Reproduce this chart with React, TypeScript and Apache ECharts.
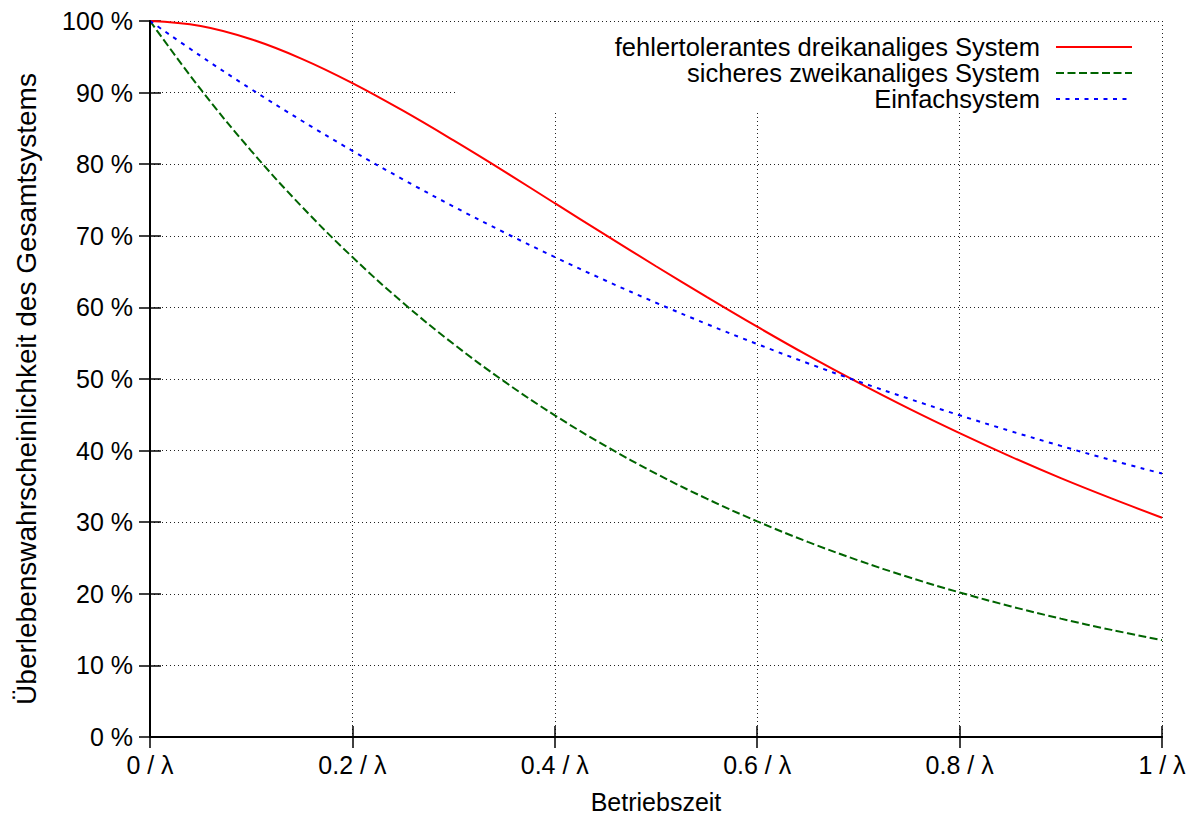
import React, { useEffect, useRef } from "react";
import * as echarts from "echarts";

// Operating time in units of 1/λ
const times = [
  0, 0.05, 0.1, 0.15, 0.2, 0.25, 0.3, 0.35, 0.4, 0.45, 0.5,
  0.55, 0.6, 0.65, 0.7, 0.75, 0.8, 0.85, 0.9, 0.95, 1,
];

// Survival probability of the whole system, in percent
const faultTolerantTriple = [
  100, 99.3, 97.45, 94.72, 91.33, 87.47, 83.32, 79.0, 74.55, 70.14, 65.75,
  61.47, 57.3, 53.29, 49.48, 45.85, 42.43, 39.19, 36.15, 33.32, 30.63,
];
const safeDual = [
  100, 90.48, 81.87, 74.08, 67.03, 60.65, 54.88, 49.66, 44.93, 40.66, 36.79,
  33.29, 30.12, 27.25, 24.66, 22.31, 20.19, 18.27, 16.53, 14.96, 13.53,
];
const simplex = [
  100, 95.12, 90.48, 86.07, 81.87, 77.88, 74.08, 70.47, 67.03, 63.76, 60.65,
  57.69, 54.88, 52.2, 49.66, 47.24, 44.93, 42.74, 40.66, 38.67, 36.79,
];

const seriesNames = [
  "fehlertolerantes dreikanaliges System",
  "sicheres zweikanaliges System",
  "Einfachsystem",
];

const xTitle = "Betriebszeit";
const yTitle = "Überlebenswahrscheinlichkeit des Gesamtsystems";

const FONT = "'Liberation Sans', Arial, Helvetica, sans-serif";

const pairs = (ys: number[]) => times.map((t, i) => [t, ys[i]]);

export default function App() {
  const ref = useRef<HTMLDivElement>(null);

  useEffect(() => {
    if (!ref.current) return;
    const chart = echarts.init(ref.current, undefined, { renderer: "svg" });

    const gridDots = {
      show: true,
      lineStyle: { color: "#222", width: 1, type: [1, 3] as any },
    };
    const frameLine = { show: true, lineStyle: { color: "#000", width: 2 } };
    const inTicks = {
      show: true,
      inside: true,
      length: 11,
      lineStyle: { color: "#000", width: 1.5 },
    };

    const line = (name: string, ys: number[], color: string, type: any) => ({
      name,
      type: "line",
      data: pairs(ys),
      showSymbol: false,
      symbol: "none",
      smooth: 0.4,
      lineStyle: { color, width: 2, type },
      itemStyle: { color },
      z: 3,
    });

    chart.setOption({
      animation: false,
      backgroundColor: "#fff",
      textStyle: { fontFamily: FONT },
      grid: {
        left: 150,
        right: 35,
        top: 21,
        bottom: 77,
        containLabel: false,
        outerBoundsMode: "none",
      },
      graphic: [
        {
          // blank area behind the key
          type: "rect",
          z: 1,
          shape: { x: 456, y: 22, width: 705, height: 91 },
          style: { fill: "#fff" },
          silent: true,
        },
      ],
      legend: {
        orient: "vertical",
        align: "right",
        right: 59,
        top: 29,
        itemWidth: 76,
        itemHeight: 14,
        itemGap: 0,
        itemStyle: { opacity: 0 },
        textStyle: {
          fontFamily: FONT,
          fontSize: 25.5,
          color: "#000",
          lineHeight: 26,
          padding: [0, 11, 0, 0],
        },
        data: seriesNames,
      },
      xAxis: [
        {
          type: "value",
          position: "bottom",
          min: 0,
          max: 1,
          interval: 0.2,
          axisLine: frameLine,
          axisTick: inTicks,
          axisLabel: {
            color: "#000",
            fontSize: 25,
            fontFamily: FONT,
            margin: 15,
            formatter: (v: number) => `${v} / λ`,
          },
          splitLine: gridDots,
          name: xTitle,
          nameLocation: "middle",
          nameGap: 52,
          nameTextStyle: { color: "#000", fontSize: 25, fontFamily: FONT },
        },
        {
          type: "value",
          position: "top",
          min: 0,
          max: 1,
          interval: 0.2,
          z: 5,
          axisLine: frameLine,
          axisTick: inTicks,
          axisLabel: { show: false },
          splitLine: { show: false },
        },
      ],
      yAxis: [
        {
          type: "value",
          position: "left",
          min: 0,
          max: 100,
          interval: 10,
          axisLine: frameLine,
          axisTick: inTicks,
          axisLabel: {
            color: "#000",
            fontSize: 25,
            fontFamily: FONT,
            margin: 17,
            formatter: (v: number) => `${v} %`,
          },
          splitLine: gridDots,
          name: yTitle,
          nameLocation: "middle",
          nameGap: 110,
          nameTextStyle: {
            color: "#000",
            fontSize: 28,
            fontFamily: FONT,
            padding: [0, 20, 0, 0],
          },
        },
        {
          type: "value",
          position: "right",
          min: 0,
          max: 100,
          interval: 10,
          z: 5,
          axisLine: frameLine,
          axisTick: inTicks,
          axisLabel: { show: false },
          splitLine: { show: false },
        },
      ],
      series: [
        line(seriesNames[0], faultTolerantTriple, "#ff0000", "solid"),
        line(seriesNames[1], safeDual, "#006400", [8, 3.5]),
        line(seriesNames[2], simplex, "#0000ff", [4, 5.5]),
      ],
    });

    return () => chart.dispose();
  }, []);

  return (
    <div
      ref={ref}
      style={{ position: "fixed", left: 0, top: 0, width: 1197, height: 814 }}
    />
  );
}
